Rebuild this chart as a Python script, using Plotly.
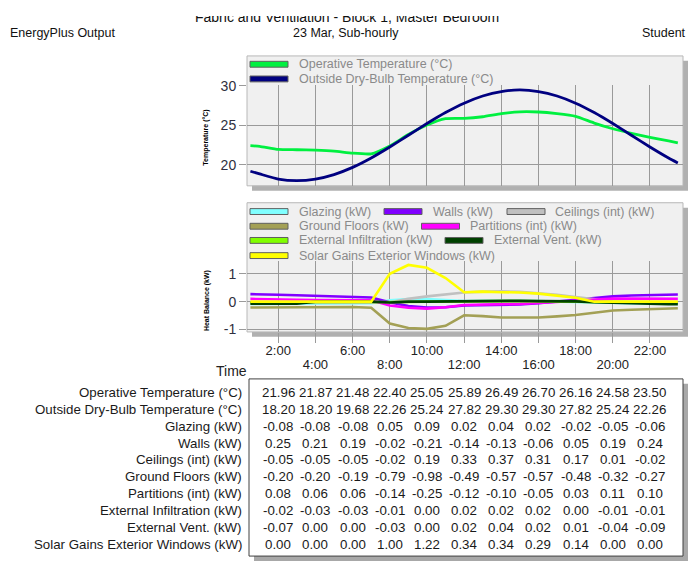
import plotly.graph_objects as go

W, H = 692, 564
FONT = "Liberation Sans, Arial, sans-serif"


def px(x):
    return x / W


def py(y):
    return 1 - y / H


# ---------------- data ----------------
hours = [0.5, 1, 2, 3, 4, 5, 6, 7, 8, 9, 10, 11, 12, 13, 14, 15, 16, 17, 18,
         19, 20, 21, 22, 23, 23.5]

operative = [22.43, 22.35, 21.96, 21.92, 21.87, 21.75, 21.48, 21.40, 22.40, 23.85,
             25.05, 25.85, 25.89, 26.10, 26.49, 26.72, 26.70, 26.50, 26.16, 25.30,
             24.58, 24.00, 23.50, 23.05, 22.80]
outside = [19.19, 18.85, 18.20, 18.00, 18.20, 18.77, 19.68, 20.87, 22.26, 23.75,
           25.24, 26.63, 27.82, 28.73, 29.30, 29.50, 29.30, 28.73, 27.82, 26.63,
           25.24, 23.75, 22.26, 20.87, 20.25]

glazing = [-0.08, -0.08, -0.08, -0.08, -0.08, -0.08, -0.08, -0.06, 0.05, 0.09,
           0.09, 0.06, 0.02, 0.03, 0.04, 0.03, 0.02, 0.00, -0.02, -0.04,
           -0.05, -0.06, -0.06, -0.07, -0.07]
walls = [0.27, 0.27, 0.25, 0.23, 0.21, 0.20, 0.19, 0.15, -0.02, -0.16,
         -0.21, -0.20, -0.14, -0.13, -0.13, -0.10, -0.06, 0.00, 0.05, 0.12,
         0.19, 0.22, 0.24, 0.26, 0.26]
ceilings = [-0.05, -0.05, -0.05, -0.05, -0.05, -0.05, -0.05, -0.04, -0.02, 0.10,
            0.19, 0.27, 0.33, 0.36, 0.37, 0.35, 0.31, 0.25, 0.17, 0.08,
            0.01, -0.01, -0.02, -0.03, -0.03]
ground_floors = [-0.21, -0.21, -0.20, -0.19, -0.20, -0.19, -0.19, -0.22, -0.79, -0.95,
                 -0.98, -0.87, -0.49, -0.52, -0.57, -0.57, -0.57, -0.53, -0.48, -0.40,
                 -0.32, -0.29, -0.27, -0.25, -0.24]
partitions = [0.10, 0.09, 0.08, 0.07, 0.06, 0.06, 0.06, 0.05, -0.14, -0.22,
              -0.25, -0.20, -0.12, -0.11, -0.10, -0.08, -0.05, -0.01, 0.03, 0.08,
              0.11, 0.11, 0.10, 0.10, 0.10]
infiltration = [-0.02, -0.02, -0.02, -0.03, -0.03, -0.03, -0.03, -0.02, -0.01, -0.01,
                0.00, 0.01, 0.02, 0.02, 0.02, 0.02, 0.02, 0.01, 0.00, -0.01,
                -0.01, -0.01, -0.01, -0.02, -0.02]
ext_vent = [-0.07, -0.07, -0.07, -0.07, 0.00, 0.00, 0.00, 0.00, -0.03, 0.00,
            0.00, 0.01, 0.02, 0.03, 0.04, 0.03, 0.02, 0.02, 0.01, -0.02,
            -0.04, -0.07, -0.09, -0.09, -0.09]
solar = [0.00, 0.00, 0.00, 0.00, 0.00, 0.00, 0.00, 0.00, 1.00, 1.32,
         1.22, 0.85, 0.34, 0.36, 0.34, 0.33, 0.29, 0.22, 0.14, 0.00,
         0.00, 0.00, 0.00, 0.00, 0.00]

tick_hours_row1 = [2, 6, 10, 14, 18, 22]
tick_labels_row1 = ["2:00", "6:00", "10:00", "14:00", "18:00", "22:00"]
tick_hours_row2 = [4, 8, 12, 16, 20]
tick_labels_row2 = ["4:00", "8:00", "12:00", "16:00", "20:00"]

table_hours = [2, 4, 6, 8, 10, 12, 14, 16, 18, 20, 22]
tbl_operative = [21.96, 21.87, 21.48, 22.40, 25.05, 25.89, 26.49, 26.70, 26.16, 24.58, 23.50]
tbl_outside = [18.20, 18.20, 19.68, 22.26, 25.24, 27.82, 29.30, 29.30, 27.82, 25.24, 22.26]
tbl_glazing = [-0.08, -0.08, -0.08, 0.05, 0.09, 0.02, 0.04, 0.02, -0.02, -0.05, -0.06]
tbl_walls = [0.25, 0.21, 0.19, -0.02, -0.21, -0.14, -0.13, -0.06, 0.05, 0.19, 0.24]
tbl_ceilings = [-0.05, -0.05, -0.05, -0.02, 0.19, 0.33, 0.37, 0.31, 0.17, 0.01, -0.02]
tbl_ground = [-0.20, -0.20, -0.19, -0.79, -0.98, -0.49, -0.57, -0.57, -0.48, -0.32, -0.27]
tbl_partitions = [0.08, 0.06, 0.06, -0.14, -0.25, -0.12, -0.10, -0.05, 0.03, 0.11, 0.10]
tbl_infiltration = [-0.02, -0.03, -0.03, -0.01, 0.00, 0.02, 0.02, 0.02, 0.00, -0.01, -0.01]
tbl_vent = [-0.07, 0.00, 0.00, -0.03, 0.00, 0.02, 0.04, 0.02, 0.01, -0.04, -0.09]
tbl_solar = [0.00, 0.00, 0.00, 1.00, 1.22, 0.34, 0.34, 0.29, 0.14, 0.00, 0.00]

temp_names = ["Operative Temperature (°C)", "Outside Dry-Bulb Temperature (°C)"]
temp_colors = ["#00F040", "#000080"]
heat_names = ["Glazing (kW)", "Walls (kW)", "Ceilings (int) (kW)", "Ground Floors (kW)",
              "Partitions (int) (kW)", "External Infiltration (kW)", "External Vent. (kW)",
              "Solar Gains Exterior Windows (kW)"]
heat_colors = ["#80FFFF", "#8000FF", "#C0C0C0", "#A3A055", "#FF00FF", "#80FF00",
               "#004000", "#FFFF00"]

# ---------------- figure ----------------
fig = go.Figure()

for name, ys, col in zip(temp_names, [operative, outside], temp_colors):
    fig.add_trace(go.Scatter(x=hours, y=ys, name=name, mode="lines",
                             line=dict(color=col, width=2.8, shape="spline", smoothing=0.5),
                             xaxis="x", yaxis="y", showlegend=False))

heat_series = [glazing, walls, ceilings, ground_floors, partitions, infiltration, ext_vent, solar]
for name, ys, col in zip(heat_names, heat_series, heat_colors):
    fig.add_trace(go.Scatter(x=hours, y=ys, name=name, mode="lines",
                             line=dict(color=col, width=2.6),
                             xaxis="x2", yaxis="y2", showlegend=False))

# empty trace so that the second tick-label row axis (x3) is drawn
fig.add_trace(go.Scatter(x=[], y=[], xaxis="x3", yaxis="y2", showlegend=False,
                         hoverinfo="skip"))

# box geometry (px)
BX0, BX1 = 247, 683
T_TOP, T_GRID, T_BOT = 50, 80, 182.7
B_TOP, B_GRID, B_BOT = 200, 260, 332
XR = [0.317, 23.778]

shapes = []
for (y0, y1) in [(T_TOP, T_BOT), (B_TOP, B_BOT)]:
    shapes.append(dict(type="rect", xref="paper", yref="paper", layer="below",
                       x0=px(BX0 + 5), x1=px(BX1 + 5), y0=py(y0 + 5), y1=py(y1 + 5),
                       fillcolor="#B0B0B0", line=dict(width=0)))
    shapes.append(dict(type="rect", xref="paper", yref="paper", layer="below",
                       x0=px(BX0), x1=px(BX1), y0=py(y0), y1=py(y1),
                       fillcolor="#F0F0F0", line=dict(color="#B8B8B8", width=1)))

# table box
TX0, TX1, TY0, TY1 = 249, 683, 380, 561
shapes.append(dict(type="rect", xref="paper", yref="paper", layer="below",
                   x0=px(TX0 + 5), x1=px(TX1 + 5), y0=py(TY0 + 5), y1=py(TY1 + 5),
                   fillcolor="#A8A8A8", line=dict(width=0)))
shapes.append(dict(type="rect", xref="paper", yref="paper", layer="below",
                   x0=px(TX0), x1=px(TX1), y0=py(TY0), y1=py(TY1),
                   fillcolor="#FFFFFF", line=dict(color="#404040", width=1)))

annotations = []


def legend_entry(x_sw, x_txt, y, color, text):
    shapes.append(dict(type="rect", xref="paper", yref="paper", layer="above",
                       x0=px(x_sw), x1=px(x_sw + 38), y0=py(y + 3), y1=py(y - 3),
                       fillcolor=color, line=dict(color="#606060", width=1)))
    annotations.append(dict(text=text, x=px(x_txt), y=py(y), xref="paper", yref="paper",
                            xanchor="left", yanchor="middle", showarrow=False,
                            font=dict(family=FONT, size=12.5, color="#8A8A8A")))


legend_entry(250, 296.5, 58.5, temp_colors[0], temp_names[0])
legend_entry(250, 296.5, 73.5, temp_colors[1], temp_names[1])

heat_legend_pos = [(250, 297, 209), (384, 430.5, 209), (507, 552.5, 209),
                   (250, 297, 224), (421.5, 468, 224),
                   (250, 297, 238.5), (445, 491.5, 238.5),
                   (250, 297, 254)]
for (xs, xt, yy), col, nm in zip(heat_legend_pos, heat_colors, heat_names):
    legend_entry(xs, xt, yy, col, nm)

# header texts
hdr_font = dict(family=FONT, size=12.5, color="#111111")
annotations.append(dict(text="Fabric and Ventilation - Block 1, Master Bedroom",
                        x=px(347), y=py(20), xref="paper", yref="paper", xanchor="center",
                        yanchor="bottom", showarrow=False,
                        font=dict(family=FONT, size=14, color="#111111")))
annotations.append(dict(text=" ", x=px(347), y=1, xref="paper", yref="paper",
                        xanchor="center", yanchor="top", showarrow=False, width=340, height=9,
                        bgcolor="#FFFFFF", borderpad=0, borderwidth=0))
annotations.append(dict(text="EnergyPlus Output", x=px(8), y=py(27), xref="paper", yref="paper",
                        xanchor="left", yanchor="middle", showarrow=False, font=hdr_font))
annotations.append(dict(text="23 Mar, Sub-hourly", x=px(346), y=py(27), xref="paper", yref="paper",
                        xanchor="center", yanchor="middle", showarrow=False, font=hdr_font))
annotations.append(dict(text="Student", x=px(688), y=py(27), xref="paper", yref="paper",
                        xanchor="right", yanchor="middle", showarrow=False, font=hdr_font))

# axis titles
annotations.append(dict(text="<b>Temperature (°C)</b>", x=px(206.5), y=py(134), xref="paper",
                        yref="paper", xanchor="center", yanchor="middle", textangle=-90,
                        showarrow=False, font=dict(family=FONT, size=7, color="#000000")))
annotations.append(dict(text="<b>Heat Balance (kW)</b>", x=px(206.5), y=py(300), xref="paper",
                        yref="paper", xanchor="center", yanchor="middle", textangle=-90,
                        showarrow=False, font=dict(family=FONT, size=7, color="#000000")))
annotations.append(dict(text="Time", x=px(231), y=py(372), xref="paper", yref="paper",
                        xanchor="center", yanchor="middle", showarrow=False,
                        font=dict(family=FONT, size=14, color="#222222")))

# table
row_labels = ["Operative Temperature (°C)", "Outside Dry-Bulb Temperature (°C)"] + heat_names
row_values = [tbl_operative, tbl_outside, tbl_glazing, tbl_walls, tbl_ceilings, tbl_ground,
              tbl_partitions, tbl_infiltration, tbl_vent, tbl_solar]
tfont = dict(family=FONT, size=13.3, color="#1A1A1A")
for i, (lab, vals) in enumerate(zip(row_labels, row_values)):
    yy = 394 + i * 17.2
    annotations.append(dict(text=lab, x=px(243.5), y=py(yy), xref="paper", yref="paper",
                            xanchor="right", yanchor="middle", showarrow=False, font=tfont))
    for hh, v in zip(table_hours, vals):
        annotations.append(dict(text=f"{v:.2f}", x=hh, y=py(yy), xref="x2", yref="paper",
                                xanchor="center", yanchor="middle", showarrow=False, font=tfont))

grid = dict(showgrid=True, gridcolor="#9A9A9A", gridwidth=1, zeroline=False, showline=False)
tick_font = dict(family=FONT, size=14, color="#303040")

fig.update_layout(
    width=W, height=H, autosize=False,
    margin=dict(l=0, r=0, t=0, b=0),
    paper_bgcolor="#FFFFFF", plot_bgcolor="rgba(0,0,0,0)",
    font=dict(family=FONT),
    showlegend=False,
    shapes=shapes, annotations=annotations,
    xaxis=dict(domain=[px(BX0), px(BX1)], range=XR, anchor="y",
               tickmode="array", tickvals=table_hours, showticklabels=False, ticks="", **grid),
    yaxis=dict(domain=[py(T_BOT), py(T_GRID)], range=[17.345, 30.087], anchor="x",
               tickmode="array", tickvals=[20, 25, 30], ticktext=["20", "25", "30"],
               ticks="outside", ticklen=7, tickcolor="#9A9A9A", tickfont=tick_font, **grid),
    xaxis2=dict(domain=[px(BX0), px(BX1)], range=XR, anchor="y2",
                tickmode="array", tickvals=tick_hours_row1, ticktext=tick_labels_row1,
                ticks="outside", ticklen=10, tickcolor="#9A9A9A", ticklabelstandoff=-4,
                tickfont=dict(family=FONT, size=13, color="#222222"), **grid),
    xaxis3=dict(domain=[px(BX0), px(BX1)], range=XR, anchor="y2", overlaying="x2", side="bottom",
                tickmode="array", tickvals=tick_hours_row2, ticktext=tick_labels_row2,
                ticks="outside", ticklen=10, tickcolor="#9A9A9A", ticklabelstandoff=10,
                tickfont=dict(family=FONT, size=13, color="#222222"), **grid),
    yaxis2=dict(domain=[py(B_BOT), py(B_GRID)], range=[-1.09, 1.446], anchor="x2",
                tickmode="array", tickvals=[-1, 0, 1], ticktext=["-1", "0", "1"],
                ticks="outside", ticklen=7, tickcolor="#9A9A9A", tickfont=tick_font, **grid),
)

fig.write_html("out.html", config={"displayModeBar": False},
               post_script="document.body.style.margin='0px';document.body.style.padding='0px';")
